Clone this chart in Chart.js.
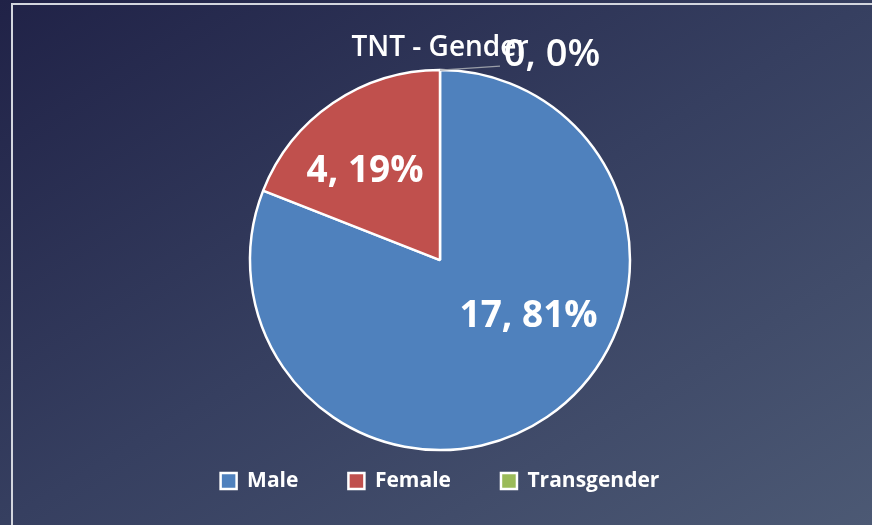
<!DOCTYPE html>
<html>
<head>
<meta charset="utf-8">
<script src="https://cdn.jsdelivr.net/npm/chart.js@4/dist/chart.umd.min.js"></script>
<style>
  html, body { margin: 0; padding: 0; }
  body {
    width: 872px; height: 525px; overflow: hidden; position: relative;
    background: linear-gradient(to bottom right, #202247 0%, #363f60 50%, #4c5974 100%);
  }
  #frame {
    position: absolute; left: 11px; top: 3px; width: 900px; height: 600px;
    border-top: 2px solid #d3d6de; border-left: 2px solid #d3d6de;
  }
  #wrap { position: absolute; left: 0; top: 0; width: 872px; height: 525px; }
</style>
</head>
<body>
<div id="frame"></div>
<div id="wrap"><canvas id="c" width="872" height="525"></canvas></div>
<script>
const categories = ["Male", "Female", "Transgender"];
const counts = [17, 4, 0];
const percentLabels = ["81%", "19%", "0%"];
const chartTitle = "TNT - Gender";

const sliceColors = ["#4F81BD", "#C0504D", "#9BBB59"];
// label placement (style): angle shift in degrees from slice middle, radius fraction
const labelAngleShift = [-24.5, -5, 0];
const labelRadiusFrac = [0.545, 0.623, 0];

const FONT = "'Open Sans', 'Noto Sans', sans-serif";

const labelPlugin = {
  id: 'sliceLabels',
  afterDatasetsDraw(chart) {
    const ctx = chart.ctx;
    const meta = chart.getDatasetMeta(0);
    ctx.save();
    ctx.fillStyle = '#ffffff';
    ctx.textAlign = 'center';
    ctx.textBaseline = 'alphabetic';
    meta.data.forEach((arc, i) => {
      const p = arc.getProps(['x', 'y', 'startAngle', 'endAngle', 'outerRadius'], true);
      const text = counts[i] + ', ' + percentLabels[i];
      if (counts[i] > 0) {
        const size = 37;
        ctx.font = 'bold ' + size + 'px ' + FONT;
        const mid = (p.startAngle + p.endAngle) / 2 + labelAngleShift[i] * Math.PI / 180;
        const r = p.outerRadius * labelRadiusFrac[i];
        const cx = p.x + Math.cos(mid) * r;
        const cy = p.y + Math.sin(mid) * r;
        ctx.fillText(text, cx, cy + size * 0.357);
      } else {
        // zero slice: leader line + outside label
        const a = p.startAngle;
        const ax = p.x + Math.cos(a) * p.outerRadius;
        const ay = p.y + Math.sin(a) * p.outerRadius;
        ctx.strokeStyle = '#9a9ea8';
        ctx.lineWidth = 1.2;
        ctx.beginPath();
        ctx.moveTo(ax, ay);
        ctx.lineTo(ax + 60, ay - 4);
        ctx.stroke();
        const size = 38;
        ctx.font = '600 ' + size + 'px ' + FONT;
        ctx.fillText(text, ax + 112, ay - 18 + size * 0.357);
      }
    });
    ctx.restore();
  }
};

new Chart(document.getElementById('c'), {
  type: 'pie',
  data: {
    labels: categories,
    datasets: [{
      data: counts,
      backgroundColor: sliceColors,
      borderColor: '#ffffff',
      borderWidth: 2.5,
      radius: 190,
      clip: false
    }]
  },
  options: {
    responsive: false,
    animation: false,
    devicePixelRatio: 1,
    layout: { padding: { left: 8, right: 0, top: 0, bottom: 23.5 } },
    plugins: {
      tooltip: { enabled: false },
      title: {
        display: true,
        text: chartTitle,
        color: '#ffffff',
        font: { family: FONT, size: 28, weight: '600' },
        padding: { top: 31, bottom: 35 }
      },
      legend: {
        position: 'bottom',
        labels: {
          color: '#ffffff',
          font: { family: FONT, size: 21, weight: 'bold' },
          boxWidth: 16,
          boxHeight: 16,
          padding: 50
        }
      }
    }
  },
  plugins: [labelPlugin]
});
</script>
</body>
</html>
